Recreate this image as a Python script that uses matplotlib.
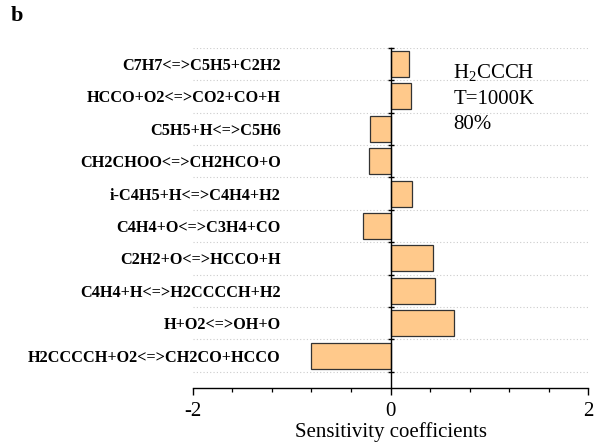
import numpy as np
import matplotlib.pyplot as plt
from matplotlib.ticker import MultipleLocator, FixedLocator, NullFormatter

plt.rcParams['font.family'] = ['Liberation Serif', 'DejaVu Serif']
plt.rcParams['mathtext.fontset'] = 'custom'
plt.rcParams['mathtext.rm'] = 'Liberation Serif'
plt.rcParams['axes.unicode_minus'] = False

# reactions listed bottom to top
reactions = ['H2CCCCH+O2<=>CH2CO+HCCO',
             'H+O2<=>OH+O',
             'C4H4+H<=>H2CCCCH+H2',
             'C2H2+O<=>HCCO+H',
             'C4H4+O<=>C3H4+CO',
             'i-C4H5+H<=>C4H4+H2',
             'CH2CHOO<=>CH2HCO+O',
             'C5H5+H<=>C5H6',
             'HCCO+O2<=>CO2+CO+H',
             'C7H7<=>C5H5+C2H2']
coeffs = [-0.80, 0.64, 0.45, 0.43, -0.28, 0.22, -0.22, -0.21, 0.21, 0.19]

fig = plt.figure(figsize=(5.99, 4.43), dpi=100)
ax = fig.add_axes([0.322, 0.124, 0.660, 0.768])

y = np.arange(len(reactions))
ax.barh(y, coeffs, height=0.8, color='#FFC98B', edgecolor='#333333', linewidth=0.9, zorder=3)

ax.set_xlim(-2, 2)
ax.set_ylim(-1, len(reactions) - 0.5)

# dotted separators between reactions
for b in np.arange(len(reactions) + 1) - 0.5:
    ax.axhline(b, color='#cccccc', linestyle=(0, (1, 2)), linewidth=0.8, zorder=1)

ax.spines['top'].set_visible(False)
ax.spines['right'].set_visible(False)
ax.spines['left'].set_position(('data', 0))
ax.spines['left'].set_linewidth(1.0)
ax.spines['bottom'].set_linewidth(1.0)
ax.spines['left'].set_zorder(4)

ax.xaxis.set_major_locator(MultipleLocator(2))
ax.xaxis.set_minor_locator(MultipleLocator(0.4))
ax.tick_params(axis='x', which='major', direction='out', length=5, width=1.0, labelsize=15, pad=5)
ax.tick_params(axis='x', which='minor', direction='out', length=3, width=0.9)

ax.set_yticks(y)
ax.set_yticklabels(reactions, fontsize=11.7, fontweight='bold')
ax.yaxis.set_minor_locator(FixedLocator(np.arange(len(reactions) + 1) - 0.5))
ax.yaxis.set_minor_formatter(NullFormatter())
ax.tick_params(axis='y', which='major', length=0, pad=79)
ax.tick_params(axis='y', which='minor', direction='inout', length=5, width=1.0)

ax.set_xlabel('Sensitivity coefficients', fontsize=15, labelpad=1)

fig.text(0.757, 0.834, r'H$_2$CCCH', fontsize=15, va='center', ha='left')
fig.text(0.757, 0.776, 'T=1000K', fontsize=15, va='center', ha='left')
fig.text(0.757, 0.718, '80%', fontsize=15, va='center', ha='left')

fig.text(0.017, 0.963, 'b', fontsize=16, fontweight='bold', va='center', ha='left')

fig.savefig('out.png', dpi=100)
